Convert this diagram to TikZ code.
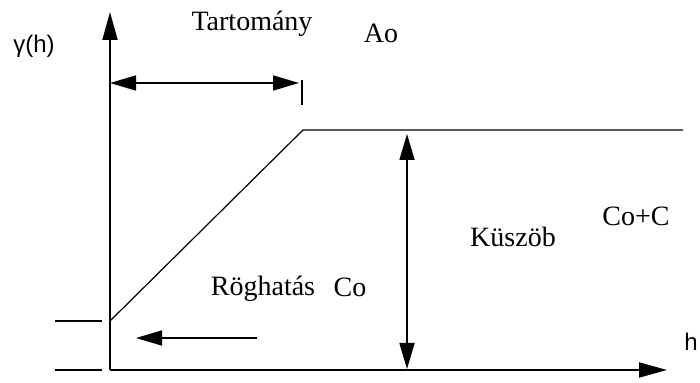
\documentclass[tikz,border=0pt]{standalone}
\usepackage{fontspec}
\setmainfont{Liberation Serif}
\newfontfamily\labelsans{Liberation Sans}
\usetikzlibrary{arrows.meta, positioning}

\begin{document}
\begin{tikzpicture}[x=0.5pt, y=-0.5pt,
    axis/.style={line width=0.9pt, -{Triangle[length=14pt, width=7.5pt]}},
    dim/.style={line width=0.8pt, {Triangle[length=13pt, width=7.5pt]}-{Triangle[length=13pt, width=7.5pt]}},
    curve/.style={line width=0.6pt},
    lbl/.style={font=\fontsize{14}{16}\selectfont, inner sep=0pt},
    axlbl/.style={font=\labelsans\fontsize{12}{14}\selectfont, inner sep=0pt}]
    \useasboundingbox (0,0) rectangle (700,383);

    % axes
    \coordinate (O) at (110,370);
    \coordinate (ytop) at (110,12);
    \coordinate (xend) at (667,370);
    \draw[axis] (O) -- (ytop);
    \draw[axis] (O) -- (xend);

    % variogram model
    \coordinate (nug) at (110,321);
    \coordinate (brk) at (303,130);
    \coordinate (sill) at (683,130);
    \draw[curve] (nug) -- (brk) -- (sill);

    % short marks left of the axis
    \coordinate (s1a) at (55,321);
    \coordinate (s1b) at (102,321);
    \coordinate (s2a) at (55,370);
    \coordinate (s2b) at (102,370);
    \draw[curve] (s1a) -- (s1b);
    \draw[curve] (s2a) -- (s2b);

    % range
    \coordinate (ra) at (110,83);
    \coordinate (rb) at (299,83);
    \draw[dim] (ra) -- (rb);
    \coordinate (ta) at (302,80);
    \coordinate (tb) at (302,105);
    \draw[line width=0.8pt] (ta) -- (tb);

    % sill
    \coordinate (va) at (407,134);
    \coordinate (vb) at (407,369);
    \draw[dim] (va) -- (vb);

    % nugget
    \coordinate (la) at (257,338);
    \coordinate (lb) at (136,338);
    \draw[line width=0.8pt, -{Triangle[length=13pt, width=7.5pt]}] (la) -- (lb);

    % labels
    \node[axlbl] (gam) at (34,46) {γ(h)};
    \node[axlbl] (hlab) at (691,342) {h};
    \node[lbl] (tart) at (252,24) {Tartomány};
    \node[lbl] (ao) at (381,33) {Ao};
    \node[lbl] (kusz) at (513,237) {Küszöb};
    \node[lbl] (coc) at (636,216) {Co+C};
    \node[lbl] (rog) at (263,289) {Röghatás};
    \node[lbl] (co) at (350,287) {Co};
\end{tikzpicture}
\end{document}
